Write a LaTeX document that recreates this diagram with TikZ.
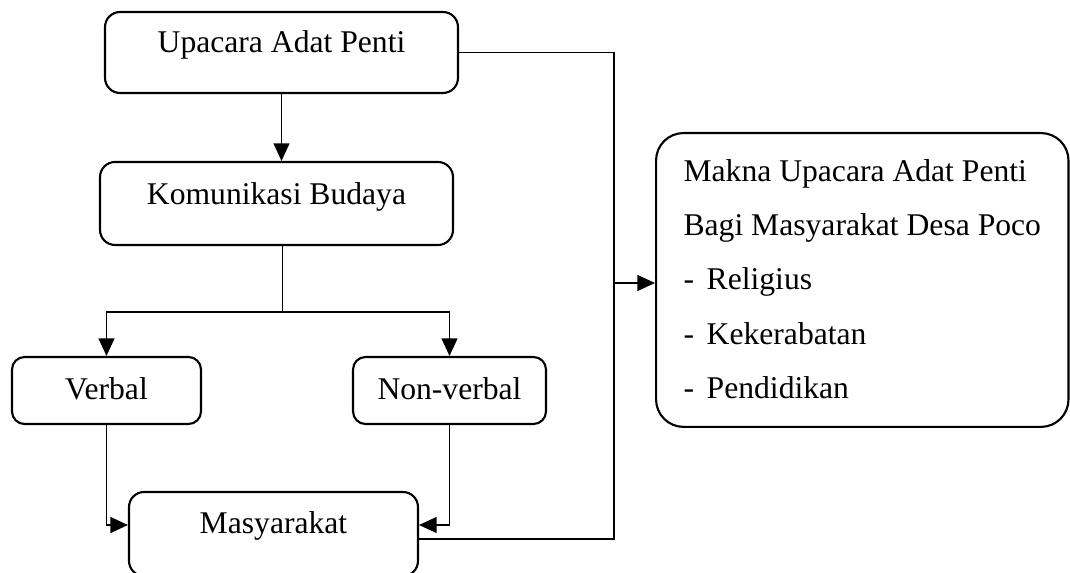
\documentclass[tikz,border=0pt]{standalone}
\usepackage{fontspec}
\setmainfont{Liberation Serif}
\usetikzlibrary{arrows.meta}

\begin{document}
\begin{tikzpicture}[x=0.02cm,y=-0.02cm,>={Triangle[length=10pt,width=9pt]},
  font=\fontsize{18}{31}\selectfont,
  box/.style={draw,line width=1.2pt,rounded corners=0.3cm,inner sep=0pt,align=center,anchor=base},
  wire/.style={line width=1pt}]
\useasboundingbox (0,0) rectangle (1070,573);
\node[box,minimum width=7.06cm,text height=0.82cm,text depth=0.80cm] (upacara) at (281.5,53) {Upacara Adat Penti};
\node[box,minimum width=7.06cm,text height=0.86cm,text depth=0.80cm] (komunikasi) at (276.5,205) {Komunikasi Budaya};
\node[box,minimum width=3.78cm,text height=0.84cm,text depth=0.50cm,rounded corners=0.25cm] (verbal) at (106.5,399) {Verbal};
\node[box,minimum width=3.86cm,text height=0.84cm,text depth=0.50cm,rounded corners=0.25cm] (nonverbal) at (449.5,399) {Non-verbal};
\node[box,minimum width=5.78cm,text height=0.82cm,text depth=0.86cm] (masyarakat) at (273.5,533) {Masyarakat};
\node[box,anchor=north west,align=left,inner xsep=0.55cm,inner ysep=0pt,rounded corners=0.55cm] (makna) at (655,132)
  {\rule{0pt}{0.96cm}Makna Upacara Adat Penti\\Bagi Masyarakat Desa Poco\\-\hspace{0.4em}Religius\\-\hspace{0.4em}Kekerabatan\\-\hspace{0.4em}Pendidikan\rule[-0.56cm]{0pt}{0.56cm}};
% alur kiri
\draw[wire,->] (upacara.south) -- (komunikasi.north -| upacara.south);
\path (komunikasi.south) ++(6,0) coordinate (stem) ++(0,66) coordinate (split);
\draw[wire] (stem) -- (split);
\draw[wire,->] (split) -| (verbal.north);
\draw[wire,->] (split) -| (nonverbal.north);
\draw[wire,->] (verbal.south) |- ([yshift=0.18cm]masyarakat.west);
\draw[wire,->] (nonverbal.south) |- ([yshift=0.18cm]masyarakat.east);
% alur kanan
\coordinate (trunk) at (614,283);
\draw[wire] (upacara.east) -| (trunk) |- ([yshift=-0.1cm]masyarakat.east);
\draw[wire,->] (trunk) -- (trunk -| makna.west);
\end{tikzpicture}
\end{document}
